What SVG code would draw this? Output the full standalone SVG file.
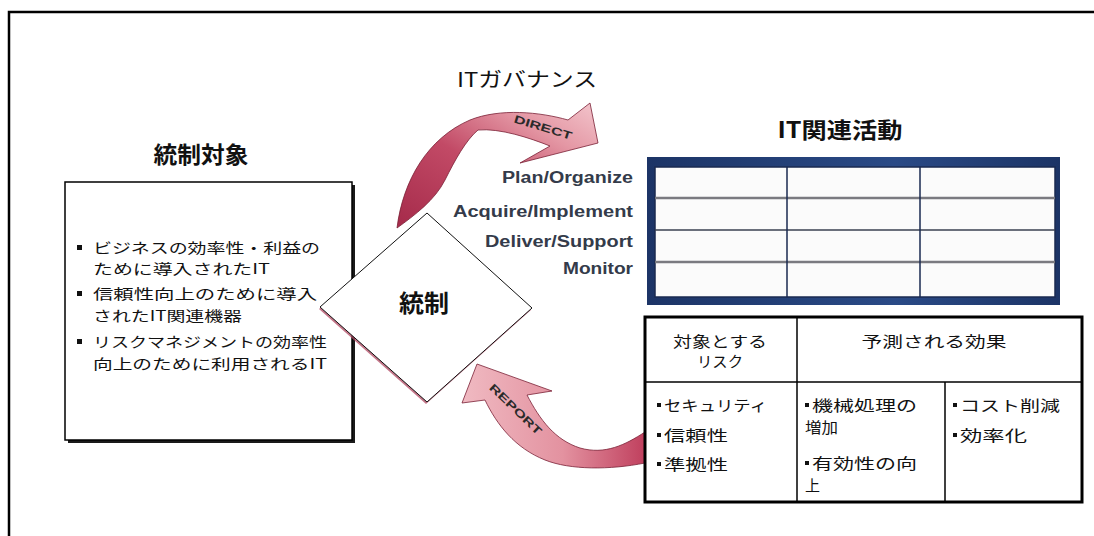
<svg xmlns="http://www.w3.org/2000/svg" width="1094" height="536" viewBox="0 0 1094 536">
<style>
.jp{font-family:"Noto Sans CJK JP","Noto Sans",sans-serif;fill:#111}
.ttl{font-family:"Noto Sans CJK JP","Noto Sans",sans-serif;font-weight:700;fill:#111}
.lbl{font-family:"Liberation Sans","DejaVu Sans",sans-serif;font-weight:700;font-size:16px;fill:#343b4a}
.arrtxt{font-family:"Liberation Sans","DejaVu Sans",sans-serif;font-weight:700;font-size:11px;fill:#2a2a2a}
.bx{fill:#fff;stroke:#000}
.bul{fill:#111}
</style>
<defs>
<linearGradient id="gDirect" x1="0" y1="1" x2="1" y2="0">
<stop offset="0" stop-color="#a52a4a"/>
<stop offset="0.45" stop-color="#c24a66"/>
<stop offset="0.75" stop-color="#e497a4"/>
<stop offset="1" stop-color="#f3c6cd"/>
</linearGradient>
<linearGradient id="gReport" x1="0" y1="0" x2="1" y2="0">
<stop offset="0" stop-color="#f0bac2"/>
<stop offset="0.55" stop-color="#e392a0"/>
<stop offset="1" stop-color="#c0405e"/>
</linearGradient>
<linearGradient id="gNavy" x1="0" y1="0" x2="1" y2="0">
<stop offset="0" stop-color="#1c3466"/>
<stop offset="0.6" stop-color="#2a4a86"/>
<stop offset="1" stop-color="#1c3466"/>
</linearGradient>
</defs>

<g id="frame">
<path d="M9,536 V12 H1094" fill="none" stroke="#000" stroke-width="2.5"/>
</g>

<g id="connectors">
<path id="direct-arrow" d="M397,228 C403,180 428,138 470,120 C500,108 540,112 568,120 L590,103 L598,143 L520,163 L550,146 C530,138 500,128 478,130 C466,140 455,160 445,180 C435,200 415,215 397,228 Z" fill="url(#gDirect)" stroke="#7a2035" stroke-width="0.8"/>
<text class="arrtxt" transform="translate(542,131) rotate(17)" text-anchor="middle" textLength="60" lengthAdjust="spacingAndGlyphs">DIRECT</text>
<path id="report-arrow" d="M527,395 C540,420 555,440 580,448 C605,455 625,445 645,432 L645,463 C610,470 570,470 545,460 C515,448 497,425 485,400 L462,403 L477,364 L552,391 Z" fill="url(#gReport)" stroke="#7a2035" stroke-width="0.8"/>
<text class="arrtxt" transform="translate(513,412) rotate(44)" text-anchor="middle" textLength="68" lengthAdjust="spacingAndGlyphs">REPORT</text>
</g>

<g id="governance-title">
<text class="jp" x="527" y="87" font-size="20" text-anchor="middle" textLength="140" lengthAdjust="spacingAndGlyphs">ITガバナンス</text>
</g>

<g id="control-target">
<text class="ttl" x="201" y="163" font-size="23" text-anchor="middle" textLength="95" lengthAdjust="spacingAndGlyphs">統制対象</text>
<rect x="68" y="185" width="287" height="258" fill="#1a1a1a"/>
<rect class="bx" x="65" y="182" width="287" height="258" stroke-width="1.5"/>
<g class="jp" font-size="14">
<rect class="bul" x="77" y="245" width="5" height="5"/>
<text x="93" y="253" textLength="227" lengthAdjust="spacingAndGlyphs">ビジネスの効率性・利益の</text>
<text x="93" y="274" textLength="177" lengthAdjust="spacingAndGlyphs">ために導入されたIT</text>
<rect class="bul" x="77" y="291" width="5" height="5"/>
<text x="93" y="299" textLength="224" lengthAdjust="spacingAndGlyphs">信頼性向上のために導入</text>
<text x="93" y="321" textLength="149" lengthAdjust="spacingAndGlyphs">されたIT関連機器</text>
<rect class="bul" x="77" y="339" width="5" height="5"/>
<text x="93" y="347" textLength="234" lengthAdjust="spacingAndGlyphs">リスクマネジメントの効率性</text>
<text x="93" y="369" textLength="234" lengthAdjust="spacingAndGlyphs">向上のために利用されるIT</text>
</g>
</g>

<g id="control">
<polygon points="426,215 531,310 426,404 319,309" fill="#b04862" opacity="0.75"/>
<polygon points="427,213 532,308 427,402 320,307" fill="#fff" stroke="#111" stroke-width="1"/>
<text class="ttl" x="424" y="312" font-size="24" text-anchor="middle" textLength="50" lengthAdjust="spacingAndGlyphs">統制</text>
</g>

<g id="it-activities">
<text class="ttl" x="840" y="138" font-size="22" text-anchor="middle" textLength="125" lengthAdjust="spacingAndGlyphs">IT関連活動</text>
<text class="lbl" x="633" y="183" text-anchor="end" textLength="131" lengthAdjust="spacingAndGlyphs">Plan/Organize</text>
<text class="lbl" x="633" y="217" text-anchor="end" textLength="180" lengthAdjust="spacingAndGlyphs">Acquire/Implement</text>
<text class="lbl" x="633" y="247" text-anchor="end" textLength="148" lengthAdjust="spacingAndGlyphs">Deliver/Support</text>
<text class="lbl" x="633" y="274" text-anchor="end" textLength="70" lengthAdjust="spacingAndGlyphs">Monitor</text>
<rect x="647" y="157" width="413" height="148" fill="url(#gNavy)"/>
<rect x="655" y="167" width="400" height="130" fill="#fbfbfb" stroke="#1a2a50" stroke-width="1.5"/>
<line x1="655" y1="198" x2="1055" y2="198" stroke="#7a7a80" stroke-width="2.5"/>
<line x1="655" y1="230" x2="1055" y2="230" stroke="#3a4050" stroke-width="1.5"/>
<line x1="655" y1="262" x2="1055" y2="262" stroke="#7a7a80" stroke-width="2.5"/>
<line x1="787" y1="167" x2="787" y2="297" stroke="#1a2a50" stroke-width="1.5"/>
<line x1="920" y1="167" x2="920" y2="297" stroke="#1a2a50" stroke-width="1.5"/>
</g>

<g id="risk-effects">
<rect class="bx" x="645" y="317" width="437" height="185" stroke-width="3"/>
<line x1="645" y1="382" x2="1082" y2="382" stroke="#000" stroke-width="1.5"/>
<line x1="797" y1="317" x2="797" y2="502" stroke="#000" stroke-width="1.5"/>
<line x1="945" y1="382" x2="945" y2="502" stroke="#000" stroke-width="1.5"/>
<g class="jp" font-size="15">
<text x="720" y="347" text-anchor="middle" textLength="94" lengthAdjust="spacingAndGlyphs">対象とする</text>
<text x="720" y="367" text-anchor="middle" textLength="46" lengthAdjust="spacingAndGlyphs">リスク</text>
<text x="934" y="347" text-anchor="middle" textLength="145" lengthAdjust="spacingAndGlyphs">予測される効果</text>
<rect class="bul" x="657" y="403" width="4" height="4"/>
<text x="664" y="411" textLength="103" lengthAdjust="spacingAndGlyphs">セキュリティ</text>
<rect class="bul" x="657" y="433" width="4" height="4"/>
<text x="664" y="441" textLength="64" lengthAdjust="spacingAndGlyphs">信頼性</text>
<rect class="bul" x="657" y="462" width="4" height="4"/>
<text x="664" y="470" textLength="64" lengthAdjust="spacingAndGlyphs">準拠性</text>
<rect class="bul" x="805" y="403" width="4" height="4"/>
<text x="812" y="411" textLength="105" lengthAdjust="spacingAndGlyphs">機械処理の</text>
<text x="805" y="433" textLength="33" lengthAdjust="spacingAndGlyphs">増加</text>
<rect class="bul" x="805" y="461" width="4" height="4"/>
<text x="812" y="469" textLength="105" lengthAdjust="spacingAndGlyphs">有効性の向</text>
<text x="805" y="491">上</text>
<rect class="bul" x="953" y="403" width="4" height="4"/>
<text x="960" y="411" textLength="100" lengthAdjust="spacingAndGlyphs">コスト削減</text>
<rect class="bul" x="953" y="433" width="4" height="4"/>
<text x="960" y="441" textLength="67" lengthAdjust="spacingAndGlyphs">効率化</text>
</g>
</g>
</svg>
